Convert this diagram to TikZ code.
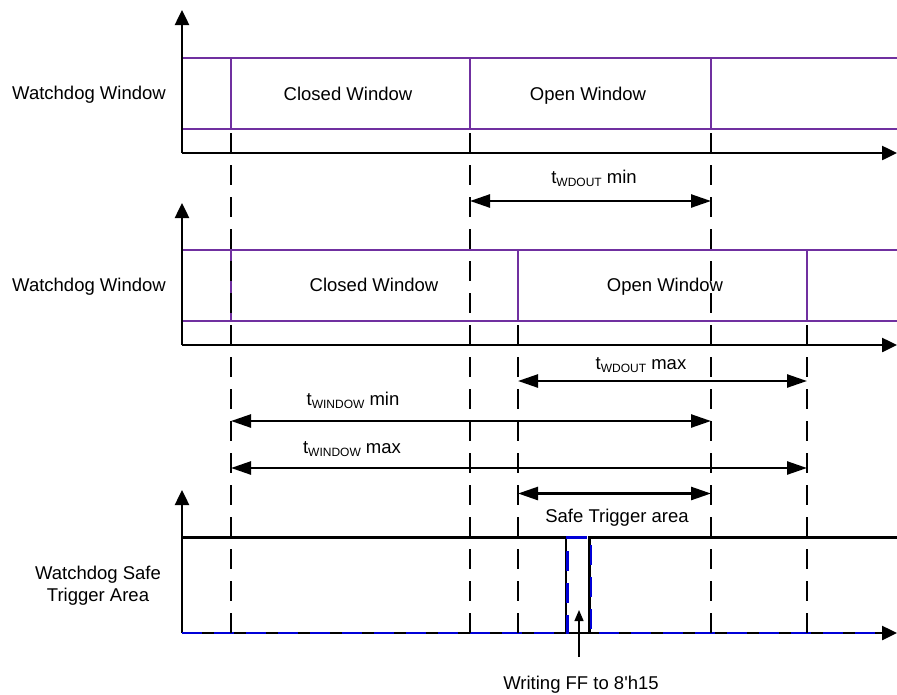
\documentclass[tikz,border=0pt]{standalone}
\usepackage{fontspec}
\setmainfont{Liberation Sans}
\usetikzlibrary{arrows.meta}
\definecolor{wdpurple}{RGB}{112,48,160}
\definecolor{wdblue}{RGB}{0,0,215}
\newcommand{\sublbl}[1]{t\raisebox{-3pt}{\fontsize{12}{12}\selectfont #1}}
\begin{document}
\begin{tikzpicture}[x=1pt,y=-1pt,
  axis/.style={line width=2.5pt,-{Triangle[length=15pt,width=14pt]}},
  purp/.style={draw=wdpurple,line width=2pt},
  guide/.style={line width=2.5pt,dash pattern=on 20pt off 12pt},
  dim/.style={line width=2.5pt,{Triangle[length=20pt,width=13pt]}-{Triangle[length=20pt,width=13pt]}},
  lbl/.style={font=\fontsize{18.5}{22}\selectfont,inner sep=0pt,anchor=base},
  wave/.style={line width=2.2pt},
  bluewave/.style={draw=wdblue,line width=2.8pt,dash pattern=on 20pt off 12pt},
  ptr/.style={line width=1.3pt,-{Triangle[length=11pt,width=9pt]}}]
\useasboundingbox[fill=white] (0,0) rectangle (897,694);

% ---------- Panel 1 ----------
\coordinate (o1) at (182,153);
\coordinate (y1) at (182,10);
\coordinate (x1) at (897,153);
\draw[purp] (182,57.5) -- (897,57.5);
\draw[purp] (182,129) -- (897,129);
\draw[purp] (231,57.5) -- (231,129);
\draw[purp] (470,57.5) -- (470,129);
\draw[purp] (711,57.5) -- (711,129);
\draw[axis] (o1) -- (y1);
\draw[axis] (o1) -- (x1);
\node[lbl] (ww1) at (89,99.5) {Watchdog Window};
\node[lbl] (cw1) at (348,100) {Closed Window};
\node[lbl] (ow1) at (588,100) {Open Window};

% ---------- Panel 2 ----------
\coordinate (o2) at (182,345);
\coordinate (y2) at (182,203);
\coordinate (x2) at (897,345);
\draw[purp] (182,249.5) -- (897,249.5);
\draw[purp] (182,321) -- (897,321);
\draw[purp] (231,249.5) -- (231,321);
\draw[purp] (518,249.5) -- (518,321);
\draw[purp] (807,249.5) -- (807,321);
\draw[axis] (o2) -- (y2);
\draw[axis] (o2) -- (x2);
\node[lbl] (ww2) at (89,291) {Watchdog Window};
\node[lbl] (cw2) at (374,291) {Closed Window};
\node[lbl] (ow2) at (665,291) {Open Window};

% ---------- Panel 3 ----------
\coordinate (o3) at (182,633);
\coordinate (y3) at (182,490);
\coordinate (x3) at (897,633);
\draw[wave] (182,537.5) -- (566,537.5) -- (566,633) -- (589.5,633) -- (589.5,537.5) -- (897,537.5);
\draw[axis] (o3) -- (y3);
\draw[axis] (o3) -- (x3);
\draw[bluewave] (182,633) -- (567.8,633) -- (567.8,537.5) -- (591,537.5) -- (591,633) -- (880,633);
\node[lbl,align=center,anchor=center] (sta) at (98,586) {Watchdog Safe\\Trigger Area};

% ---------- Guide lines ----------
\coordinate (gA) at (231,133);
\coordinate (gB) at (470,133);
\coordinate (gC) at (711,133);
\coordinate (gD) at (518,325);
\coordinate (gE) at (807,325);
\draw[guide] (gA) -- (231,633);
\draw[guide] (gB) -- (470,633);
\draw[guide] (gC) -- (711,633);
\draw[guide] (gD) -- (518,633);
\draw[guide] (gE) -- (807,633);

% ---------- Dimensions ----------
\coordinate (d1a) at (470,201);
\coordinate (d1b) at (711,201);
\draw[dim] (d1a) -- (d1b);
\node[lbl] (l1) at (594,183.5) {\sublbl{WDOUT} min};

\coordinate (d2a) at (518,381);
\coordinate (d2b) at (807,381);
\draw[dim] (d2a) -- (d2b);
\node[lbl] (l2) at (641,369) {\sublbl{WDOUT} max};

\coordinate (d3a) at (231,421);
\coordinate (d3b) at (711,421);
\draw[dim] (d3a) -- (d3b);
\node[lbl] (l3) at (353,405) {\sublbl{WINDOW} min};

\coordinate (d4a) at (231,468);
\coordinate (d4b) at (807,468);
\draw[dim] (d4a) -- (d4b);
\node[lbl] (l4) at (352,453) {\sublbl{WINDOW} max};

\coordinate (d5a) at (518,493.5);
\coordinate (d5b) at (711,493.5);
\draw[dim] (d5a) -- (d5b);
\node[lbl] (l5) at (617,522) {Safe Trigger area};

% ---------- Write pointer ----------
\node[lbl] (wr) at (581,689.5) {Writing FF to 8\textquotesingle h15};
\coordinate (ptail) at (579,657);
\coordinate (ptip) at (579,610);
\draw[ptr] (ptail) -- (ptip);
\end{tikzpicture}
\end{document}
